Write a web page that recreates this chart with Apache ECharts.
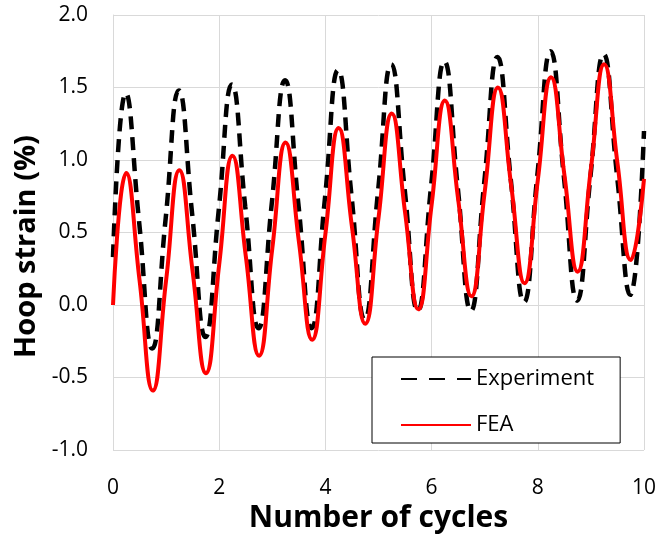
<!DOCTYPE html>
<html>
<head>
<meta charset="utf-8">
<script src="https://cdn.jsdelivr.net/npm/echarts@6/dist/echarts.min.js"></script>
<style>
  html, body { margin: 0; padding: 0; background: #fff; }
  #chart { width: 660px; height: 539px; }
</style>
</head>
<body>
<div id="chart"></div>
<script>
// Experiment (black dashed) - [cycles, hoop strain %]
const expX = [0, 0.24, 0.49, 0.74, 0.99, 1.24, 1.49, 1.74, 1.99, 2.24, 2.49, 2.74, 2.99, 3.24, 3.49, 3.74,
  3.99, 4.24, 4.49, 4.74, 4.99, 5.24, 5.49, 5.74, 5.99, 6.24, 6.49, 6.74, 6.99, 7.24, 7.49, 7.74,
  7.99, 8.24, 8.49, 8.74, 8.99, 9.24, 9.49, 9.74, 10]
const expY = [0.33, 1.46, 0.58, -0.30, 0.59, 1.48, 0.63, -0.22, 0.65, 1.52, 0.68, -0.16, 0.70, 1.55, 0.70, -0.16,
  0.73, 1.62, 0.76, -0.10, 0.78, 1.66, 0.81, -0.04, 0.82, 1.68, 0.82, -0.04, 0.84, 1.71, 0.87, 0.02,
  0.89, 1.75, 0.89, 0.03, 0.88, 1.73, 0.90, 0.07, 1.2]

// FEA (red)
const feaX = [0, 0.25, 0.5, 0.75, 1, 1.25, 1.5, 1.75, 2, 2.25, 2.5, 2.75, 3, 3.25, 3.5, 3.75,
  4, 4.25, 4.5, 4.75, 5, 5.25, 5.5, 5.75, 6, 6.25, 6.5, 6.75, 7, 7.25, 7.5, 7.75,
  8, 8.25, 8.5, 8.75, 9, 9.25, 9.5, 9.75, 10]
const feaY = [0, 0.91, 0.17, -0.59, 0.17, 0.93, 0.23, -0.47, 0.28, 1.03, 0.34, -0.35, 0.39, 1.12, 0.44, -0.24,
  0.49, 1.22, 0.54, -0.13, 0.60, 1.32, 0.64, -0.03, 0.69, 1.41, 0.73, 0.06, 0.78, 1.50, 0.82, 0.15,
  0.86, 1.57, 0.90, 0.23, 0.94, 1.66, 0.98, 0.31, 0.87]

const pairs = (xs, ys) => xs.map((x, i) => [x, ys[i]])

const font = 'Open Sans'
const gridColor = '#d9d9d9'

const options = {
  animation: false,
  grid: { left: 113, right: 16, top: 15, bottom: 89 },
  legend: {
    orient: 'vertical',
    left: 372,
    top: 357,
    padding: [11, 26, 7, 28],
    itemWidth: 70,
    itemHeight: 14,
    itemGap: 24,
    backgroundColor: '#fff',
    borderColor: '#000',
    borderWidth: 1,
    itemStyle: { opacity: 0 },
    textStyle: { fontFamily: font, fontSize: 22, color: '#000' },
    data: [
      { name: 'Experiment', lineStyle: { type: [16, 12] } },
      { name: 'FEA' },
    ],
  },
  xAxis: {
    type: 'value',
    min: 0,
    max: 10,
    interval: 2,
    name: 'Number of cycles',
    nameLocation: 'middle',
    nameGap: 47,
    nameTextStyle: { fontFamily: font, fontSize: 30, fontWeight: 'bold', color: '#000' },
    axisLine: { show: true, lineStyle: { color: gridColor, width: 1 } },
    axisTick: { show: false },
    axisLabel: { fontFamily: font, fontSize: 21, color: '#000', margin: 28 },
    splitLine: { lineStyle: { color: gridColor, width: 1 } },
  },
  yAxis: {
    type: 'value',
    min: -1,
    max: 2,
    interval: 0.5,
    name: 'Hoop strain (%)',
    nameLocation: 'middle',
    nameGap: 57,
    nameTextStyle: {
      fontFamily: font, fontSize: 29, fontWeight: 'bold', color: '#000',
      padding: [0, 28, 0, 0],
    },
    axisLine: { show: true, lineStyle: { color: gridColor, width: 1 } },
    axisTick: { show: false },
    axisLabel: {
      fontFamily: font, fontSize: 21, color: '#000', margin: 25,
      formatter: v => v.toFixed(1),
    },
    splitLine: { lineStyle: { color: gridColor, width: 1 } },
  },
  series: [
    {
      name: 'Experiment',
      type: 'line',
      data: pairs(expX, expY),
      smooth: 0.5,
      symbol: 'none',
      lineStyle: { color: '#000', width: 4.5, type: [13, 8] },
      itemStyle: { color: '#000' },
    },
    {
      name: 'FEA',
      type: 'line',
      data: pairs(feaX, feaY),
      smooth: 0.5,
      symbol: 'none',
      lineStyle: { color: '#ff0000', width: 4 },
      itemStyle: { color: '#ff0000' },
    },
  ],
}

let chart = echarts.init(document.getElementById('chart'))
chart.setOption(options)
window.onresize = function () {
  chart.resize()
}
</script>
</body>
</html>
